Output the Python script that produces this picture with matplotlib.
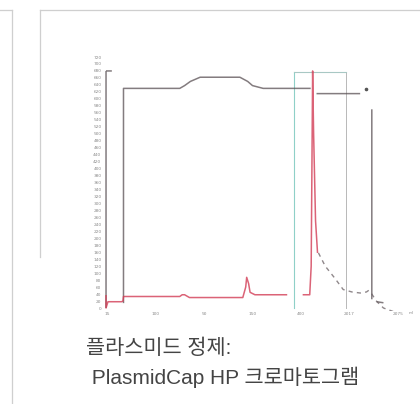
import numpy as np
import matplotlib
matplotlib.use("Agg")
import matplotlib.pyplot as plt
from matplotlib.lines import Line2D

nan = np.nan

# ---- data ----
y_ticks = list(range(0, 721, 20))
x_ticks = [0, 100, 200, 300, 400, 500, 600]
x_tick_labels = ["15", "100", "50", "150", "400", "2017", "2075"]

# conductivity / %B trace (dark)
cond_x = [-2, 10, nan, -2, -2, nan, 34, 34, 150, 160, 172, 192, 274, 290, 300, 322, 420,
          nan, 432, 522, nan, 546, 546, nan, 556, 570]
cond_y = [680, 680, nan, 680, 0, nan, 14, 630, 630, 638, 650, 662, 662, 650, 638, 630, 630,
          nan, 615, 615, nan, 570, 25, nan, 18, 15]

# UV absorbance trace (red)
uv_x = [-2, -2, 2, 30, 33, 34, 150, 155, 160, 170, 280, 286, 288, 292, 295, 305, 370,
        nan, 405, 418, 421, 424, 426, 430, 434]
uv_y = [35, 0, 18, 18, 20, 33, 33, 38, 38, 30, 30, 60, 88, 70, 45, 38, 38,
        nan, 38, 38, 120, 680, 500, 250, 160]

# tail after main peak (dashed dark)
tail_x = [436, 450, 470, 487, 505, 522, 535, 539, 546, 556, 570, 590]
tail_y = [158, 120, 85, 53, 46, 43, 46, 50, 40, 19, 0, -10]

# collection window
win_left, win_right, win_top = 386, 493, 678

W, H = 420, 404
fig = plt.figure(figsize=(W / 100, H / 100), dpi=100)
fig.patch.set_facecolor("white")

def fx(px):
    return px / W

def fy(py):
    return 1 - py / H

# card borders
border = "#cfcfcf"
for (x0, y0, x1, y1) in [(0, 10, 11.5, 10), (11.5, 10, 11.5, 404),
                          (39.5, 10, 420, 10), (39.5, 10, 39.5, 257)]:
    fig.add_artist(Line2D([fx(x0), fx(x1)], [fy(y0), fy(y1)], color=border, lw=0.9,
                          transform=fig.transFigure))

# chart axes
ax_l, ax_r, ax_t, ax_b = 103, 412, 50, 311
ax = fig.add_axes([fx(ax_l), fy(ax_b), (ax_r - ax_l) / W, (ax_b - ax_t) / H])
px_per_unit_y = 0.3486
ax.set_ylim((308 - ax_b) / px_per_unit_y, (308 - ax_t) / px_per_unit_y)
x_scale = 0.485
ax.set_xlim((ax_l - 107) / x_scale, (ax_r - 107) / x_scale)

for s in ax.spines.values():
    s.set_visible(False)
ax.set_yticks(y_ticks)
ax.set_yticklabels([str(v) for v in y_ticks])
ax.set_xticks(x_ticks)
ax.set_xticklabels(x_tick_labels)
ax.tick_params(axis="both", length=0, labelsize=3.1, labelcolor="#8a8a8a")
ax.tick_params(axis="y", pad=1.2)
ax.tick_params(axis="x", pad=1.0)

# collection window
ax.plot([win_left, win_left], [0, win_top], color="#8fd0c8", lw=0.8)
ax.plot([win_right, win_right], [0, win_top], color="#b8b8b8", lw=0.7)
ax.plot([win_left, win_right], [win_top, win_top], color="#a8c8c4", lw=0.8)

ax.plot(cond_x, cond_y, color="#5a5054", lw=1.1, alpha=0.75, solid_capstyle="butt")
ax.plot(uv_x, uv_y, color="#d23c55", lw=1.1, alpha=0.8)
ax.plot(tail_x, tail_y, color="#6a6064", lw=1.0, ls=(0, (3, 3)), alpha=0.75)
ax.plot([535], [627], marker="o", ms=1.6, color="#555555", ls="none")
ax.text(622, -14, "ml", fontsize=3.1, color="#8a8a8a", ha="left", va="center", clip_on=False)

# caption
cap_font = ["Liberation Sans", "Noto Sans CJK KR"]
fig.text(fx(86), fy(348), "플라스미드 정제:", fontsize=15, color="#444444",
         family=cap_font, ha="left", va="center")
fig.text(fx(86), fy(377), " PlasmidCap HP 크로마토그램", fontsize=15, color="#444444",
         family=cap_font, ha="left", va="center")

fig.savefig("out.png", dpi=100, facecolor="white")
